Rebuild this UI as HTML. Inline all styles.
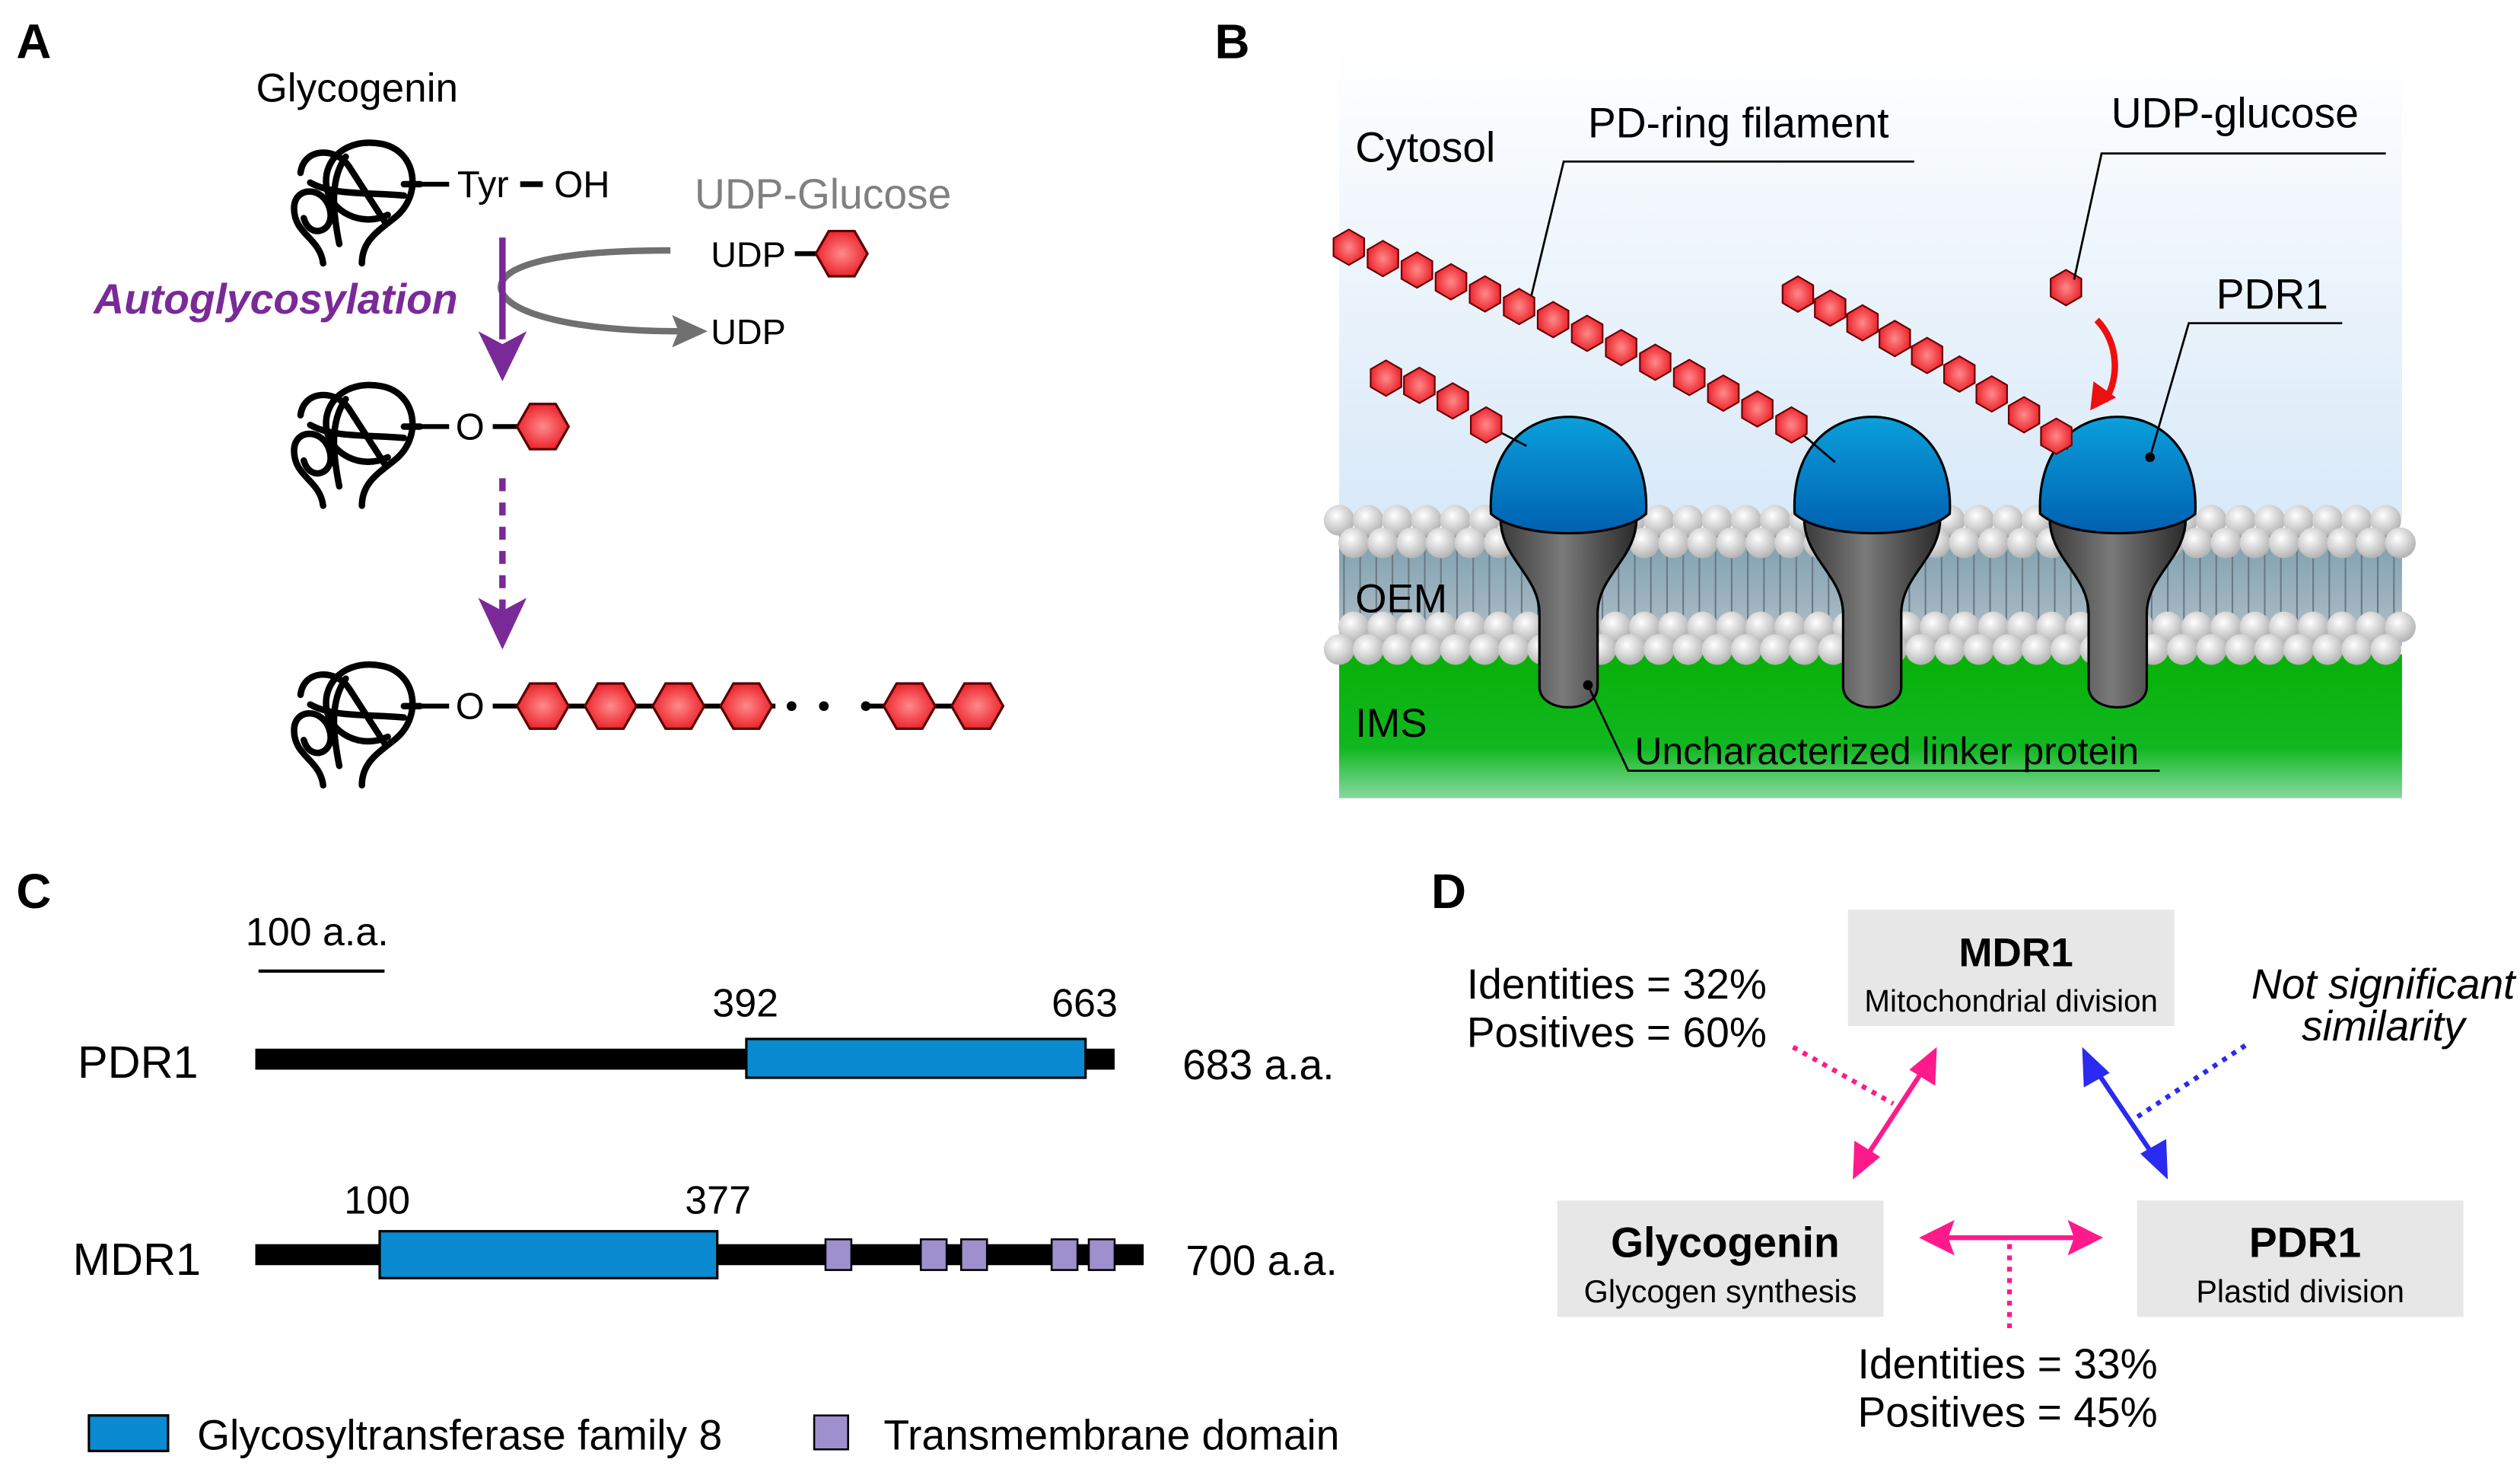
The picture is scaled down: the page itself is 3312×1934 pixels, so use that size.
<!DOCTYPE html>
<html><head><meta charset="utf-8"><style>
html,body{margin:0;padding:0;background:#fff;width:3312px;height:1934px;overflow:hidden}
svg{display:block}
text{font-family:"Liberation Sans",sans-serif}
</style></head><body>
<svg id="s" width="3312" height="1934" viewBox="0 0 1560 911" xmlns="http://www.w3.org/2000/svg">
<defs>
<radialGradient id="hx" cx="0.5" cy="0.5" r="0.6"><stop offset="0" stop-color="#ff8a8a"/><stop offset="1" stop-color="#e8121c"/></radialGradient>
<linearGradient id="sky" x1="0" y1="0" x2="0" y2="1"><stop offset="0" stop-color="#ffffff"/><stop offset="1" stop-color="#d8e9f8"/></linearGradient>
<linearGradient id="grn" x1="0" y1="0" x2="0" y2="1"><stop offset="0" stop-color="#08b008"/><stop offset="0.65" stop-color="#10b820"/><stop offset="1" stop-color="#88d8a0"/></linearGradient>
<linearGradient id="mid" x1="0" y1="0" x2="0" y2="1"><stop offset="0" stop-color="#7c9fb0"/><stop offset="1" stop-color="#b4c0c8"/></linearGradient>
<radialGradient id="lip" cx="0.4" cy="0.35" r="0.65"><stop offset="0" stop-color="#ffffff"/><stop offset="1" stop-color="#b4b4b4"/></radialGradient>
<linearGradient id="cap" x1="0" y1="0" x2="0" y2="1"><stop offset="0" stop-color="#0aa0dc"/><stop offset="1" stop-color="#0060b0"/></linearGradient>
<linearGradient id="stk" x1="0" y1="0" x2="1" y2="0"><stop offset="0" stop-color="#3a3a3a"/><stop offset="0.45" stop-color="#7a7a7a"/><stop offset="1" stop-color="#2a2a2a"/></linearGradient>
<g id="tangle" fill="none" stroke="#000" stroke-width="4" stroke-linecap="round">
<path d="M20,78 C18,62 2,60 2,44 C2,30 20,30 24,44 C28,58 12,64 8,50"/>
<path d="M44,78 C44,64 54,58 64,50 C82,36 78,8 56,4 C34,0 20,14 22,30 C24,46 44,56 60,48"/>
<path d="M6,22 C8,6 28,6 36,18 L58,52"/>
<path d="M12,28 C26,36 48,34 70,36"/>
<path d="M34,12 C24,26 26,46 30,66"/>
<path d="M70,29 L80,29"/>
</g>
<g id="hex"><polygon points="-16,0 -8,-14 8,-14 16,0 8,14 -8,14" fill="url(#hx)" stroke="#5a0000" stroke-width="1.5"/></g>
</defs>

<!-- Panel A -->
<text x="10" y="36" font-size="30" font-weight="bold">A</text>
<text x="221" y="63" font-size="25" text-anchor="middle">Glycogenin</text>
<use href="#tangle" x="180" y="85"/>
<use href="#tangle" x="180" y="235"/>
<use href="#tangle" x="180" y="408"/>
<line x1="259" y1="114" x2="278" y2="114" stroke="#000" stroke-width="3"/>
<text x="283" y="122" font-size="23">Tyr</text>
<line x1="322" y1="114" x2="336" y2="114" stroke="#000" stroke-width="3.5"/>
<text x="343" y="122" font-size="23">OH</text>
<text x="430" y="129" font-size="26" fill="#808080">UDP-Glucose</text>
<text x="440" y="165" font-size="22">UDP</text>
<line x1="492" y1="157" x2="506" y2="157" stroke="#000" stroke-width="3"/>
<use href="#hex" x="521" y="157"/>
<path d="M415,155 C340,155 310,165 310,178 C312,195 360,205 420,205" fill="none" stroke="#707070" stroke-width="4"/>
<polygon points="438,205 416,195 420,205 416,215" fill="#707070"/>
<text x="440" y="213" font-size="22">UDP</text>
<line x1="311" y1="147" x2="311" y2="210" stroke="#7a2a98" stroke-width="4"/>
<polygon points="296,205 311,236 326,205 311,213" fill="#7a2a98"/>
<text x="58" y="194" font-size="26" font-weight="bold" font-style="italic" fill="#7a2a98">Autoglycosylation</text>
<line x1="259" y1="264" x2="278" y2="264" stroke="#000" stroke-width="3"/>
<text x="282" y="272" font-size="23">O</text>
<line x1="305" y1="264" x2="320" y2="264" stroke="#000" stroke-width="3"/>
<use href="#hex" x="336" y="264"/>
<line x1="311" y1="296" x2="311" y2="378" stroke="#7a2a98" stroke-width="4" stroke-dasharray="8,7"/>
<polygon points="296,370 311,402 326,370 311,378" fill="#7a2a98"/>
<line x1="259" y1="437" x2="278" y2="437" stroke="#000" stroke-width="3"/>
<text x="282" y="445" font-size="23">O</text>
<line x1="305" y1="437" x2="480" y2="437" stroke="#000" stroke-width="3"/>
<line x1="536" y1="437" x2="600" y2="437" stroke="#000" stroke-width="3"/>
<circle cx="490" cy="437" r="3"/><circle cx="510" cy="437" r="3"/><circle cx="536" cy="437" r="3"/>
<use href="#hex" x="336" y="437"/><use href="#hex" x="378" y="437"/><use href="#hex" x="420" y="437"/><use href="#hex" x="462" y="437"/><use href="#hex" x="563" y="437"/><use href="#hex" x="605" y="437"/>

<!-- Panel B -->
<text x="752" y="36" font-size="30" font-weight="bold">B</text>
<rect x="829" y="30" width="658" height="290" fill="url(#sky)"/>
<rect x="829" y="330" width="658" height="70" fill="url(#mid)"/>
<rect x="829" y="405" width="658" height="89" fill="url(#grn)"/>
<g id="tails" stroke="#6a7a84" stroke-width="1"></g>
<g id="lipids"></g>
<g id="prot"></g>
<g id="chains"></g>
<path d="M1298,198 C1312,212 1312,235 1303,248" fill="none" stroke="#ee1010" stroke-width="4"/>
<polygon points="1294,254 1296,236 1310,246" fill="#ee1010"/>
<text x="839" y="100" font-size="26">Cytosol</text>
<text x="983" y="85" font-size="26">PD-ring filament</text>
<polyline points="948,183 968,100 1185,100" fill="none" stroke="#000" stroke-width="1.3"/>
<text x="1307" y="79" font-size="26">UDP-glucose</text>
<polyline points="1284,173 1301,95 1477,95" fill="none" stroke="#000" stroke-width="1.3"/>
<text x="1372" y="191" font-size="26">PDR1</text>
<polyline points="1331,283 1355,200 1450,200" fill="none" stroke="#000" stroke-width="1.3"/>
<circle cx="1331" cy="283" r="3"/>
<text x="839" y="379" font-size="25">OEM</text>
<text x="839" y="456" font-size="25">IMS</text>
<text x="1012" y="473" font-size="23.5">Uncharacterized linker protein</text>
<polyline points="983,424 1008,477 1337,477" fill="none" stroke="#000" stroke-width="1.3"/>
<circle cx="983" cy="424" r="3"/>

<!-- Panel C -->
<text x="10" y="562" font-size="30" font-weight="bold">C</text>
<text x="152" y="585" font-size="24.5">100 a.a.</text>
<line x1="160" y1="601" x2="238" y2="601" stroke="#000" stroke-width="2"/>
<text x="48" y="667" font-size="28">PDR1</text>
<rect x="158" y="649" width="532" height="13" fill="#000"/>
<rect x="462" y="643" width="210" height="24" fill="#0a8ad0" stroke="#000" stroke-width="1.5"/>
<text x="441" y="629" font-size="24.5">392</text>
<text x="651" y="629" font-size="24.5">663</text>
<text x="732" y="668" font-size="26">683 a.a.</text>
<text x="45" y="789" font-size="28">MDR1</text>
<rect x="158" y="770" width="550" height="13" fill="#000"/>
<rect x="235" y="762" width="209" height="29" fill="#0a8ad0" stroke="#000" stroke-width="1.5"/>
<text x="213" y="751" font-size="24.5">100</text>
<text x="424" y="751" font-size="24.5">377</text>
<g fill="#9d90cc" stroke="#000" stroke-width="1.2">
<rect x="511" y="767" width="16" height="19"/><rect x="570" y="767" width="16" height="19"/><rect x="595" y="767" width="16" height="19"/><rect x="651" y="767" width="16" height="19"/><rect x="674" y="767" width="16" height="19"/>
</g>
<text x="734" y="789" font-size="26">700 a.a.</text>
<rect x="55" y="876" width="49" height="22" fill="#0a8ad0" stroke="#000" stroke-width="1.5"/>
<text x="122" y="897" font-size="26">Glycosyltransferase family 8</text>
<rect x="504" y="876" width="21" height="21" fill="#9d90cc" stroke="#000" stroke-width="1.2"/>
<text x="547" y="897" font-size="26">Transmembrane domain</text>

<!-- Panel D -->
<text x="886" y="562" font-size="30" font-weight="bold">D</text>
<rect x="1144" y="563" width="202" height="72" fill="#e6e7e6"/>
<text x="1248" y="598" font-size="25" font-weight="bold" text-anchor="middle">MDR1</text>
<text x="1245" y="626" font-size="19" text-anchor="middle">Mitochondrial division</text>
<rect x="964" y="743" width="202" height="72" fill="#e6e7e6"/>
<text x="1068" y="778" font-size="26" font-weight="bold" text-anchor="middle">Glycogenin</text>
<text x="1065" y="806" font-size="19.5" text-anchor="middle">Glycogen synthesis</text>
<rect x="1323" y="743" width="202" height="72" fill="#e6e7e6"/>
<text x="1427" y="778" font-size="26" font-weight="bold" text-anchor="middle">PDR1</text>
<text x="1424" y="806" font-size="19.5" text-anchor="middle">Plastid division</text>
<text x="908" y="618" font-size="26">Identities = 32%</text>
<text x="908" y="648" font-size="26">Positives = 60%</text>
<text x="1557" y="618" font-size="26" font-style="italic" text-anchor="end">Not significant</text>
<text x="1526" y="644" font-size="26" font-style="italic" text-anchor="end">similarity</text>
<text x="1150" y="853" font-size="26">Identities = 33%</text>
<text x="1150" y="883" font-size="26">Positives = 45%</text>
<g stroke-width="3" fill="none">
<line x1="1192" y1="660" x2="1154" y2="718" stroke="#ff1a8c"/>
<line x1="1110" y1="648" x2="1172" y2="683" stroke="#ff1a8c" stroke-dasharray="3,4"/>
<line x1="1296" y1="660" x2="1335" y2="718" stroke="#2a2af0"/>
<line x1="1390" y1="647" x2="1322" y2="692" stroke="#2a2af0" stroke-dasharray="3,4"/>
<line x1="1200" y1="766" x2="1290" y2="766" stroke="#ff1a8c"/>
<line x1="1244" y1="770" x2="1244" y2="823" stroke="#ff1a8c" stroke-dasharray="3,4"/>
</g>
<g fill="#ff1a8c">
<polygon points="1199,648 1198,672 1182,662"/>
<polygon points="1147,730 1148,706 1164,716"/>
<polygon points="1188,766 1210,755 1206,766 1210,777"/>
<polygon points="1302,766 1280,755 1284,766 1280,777"/>
</g>
<g fill="#2a2af0">
<polygon points="1289,648 1306,664 1290,673"/>
<polygon points="1342,730 1325,714 1341,705"/>
</g>
</svg>
<script>
var NS="http://www.w3.org/2000/svg";
function el(p,t,a){var e=document.createElementNS(NS,t);for(var k in a)e.setAttribute(k,a[k]);p.appendChild(e);return e;}
var L=document.getElementById('lipids'),T=document.getElementById('tails');
for(var x=832;x<1487;x+=10){el(T,'line',{x1:x,y1:340,x2:x,y2:385});}
var rows=[[322,0],[336,9],[388,9],[402,0]];
rows.forEach(function(r){for(var x=829+r[1];x<1490;x+=18){el(L,'circle',{cx:x,cy:r[0],r:9.5,fill:'url(#lip)'});}});
var P=document.getElementById('prot');
[971,1159,1311].forEach(function(c){
 el(P,'path',{d:'M'+(c-42)+',318 C'+(c-44)+',345 '+(c-18)+',355 '+(c-18)+',380 L'+(c-18)+',425 C'+(c-18)+',442 '+(c+18)+',442 '+(c+18)+',425 L'+(c+18)+',380 C'+(c+18)+',355 '+(c+44)+',345 '+(c+42)+',318 Z',fill:'url(#stk)',stroke:'#000','stroke-width':1.5});
 el(P,'path',{d:'M'+(c-48)+',318 C'+(c-50)+',280 '+(c-28)+',258 '+c+',258 C'+(c+28)+',258 '+(c+50)+',280 '+(c+48)+',318 C'+(c+30)+',334 '+(c-30)+',334 '+(c-48)+',318 Z',fill:'url(#cap)',stroke:'#000','stroke-width':1.5});
});
var C=document.getElementById('chains');
function hx(cx,cy,r){var p=[];for(var i=0;i<6;i++){var a=Math.PI/6+i*Math.PI/3;p.push((cx+r*Math.cos(a)).toFixed(1)+','+(cy+r*Math.sin(a)).toFixed(1));}el(C,'polygon',{points:p.join(' '),fill:'url(#hx)',stroke:'#600','stroke-width':1});}
function chain(x0,y0,x1,y1,n,end){el(C,'line',{x1:x1,y1:y1,x2:end[0],y2:end[1],stroke:'#000','stroke-width':1.3});for(var i=0;i<n;i++){var t=i/(n-1);var bow=Math.sin(Math.PI*t)*-6;hx(x0+(x1-x0)*t,y0+(y1-y0)*t+bow,11);}}
chain(835,153,1109,263,14,[1136,286]);
chain(858,234,920,263,4,[945,276]);
chain(1113,182,1273,270,9,[1280,278]);
hx(1279,178,11);
</script>
</body></html>
